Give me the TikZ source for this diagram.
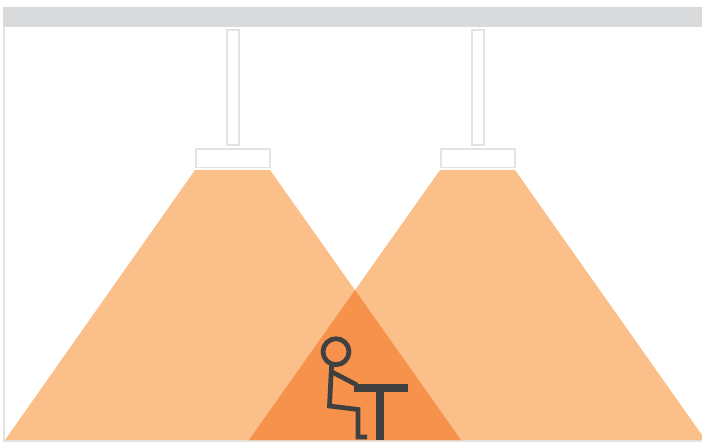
\documentclass[tikz,border=0pt]{standalone}
\definecolor{ceilgray}{HTML}{D9DADB}
\definecolor{fixgray}{HTML}{E2E3E3}
\definecolor{lightcone}{HTML}{FBBF8A}
\definecolor{overlap}{HTML}{F7924D}
\definecolor{figdark}{HTML}{404040}
\begin{document}
\begin{tikzpicture}[
    x=0.02cm, y=-0.02cm,
    fixture/.style={draw=fixgray, fill=white, line width=0.04cm},
    struct/.style={fill=ceilgray},
    cone/.style={fill=lightcone},
    stick/.style={draw=figdark, line width=0.095cm, line join=miter},
  ]
    \useasboundingbox (0,0) rectangle (702,442);

    % ceiling, wall, floor
    \fill[struct] (3,7.5) rectangle (702,26.7);
    \fill[fixgray] (3,26) rectangle (5,442);
    \fill[fixgray] (3,440) rectangle (702,442);

    % light cones
    \fill[cone] (195,170) -- (270,170) -- (461,440) -- (5,440) -- cycle;
    \fill[cone] (440,170) -- (515,170) -- (702,435) -- (702,440) -- (249,440) -- cycle;
    \fill[overlap] (355,290) -- (461,440) -- (249,440) -- cycle;

    % rods and lamps
    \draw[fixture] (226.5,30.5) rectangle (239,145);
    \draw[fixture] (196,149.5) rectangle (269.5,167.5);
    \draw[fixture] (471.5,30.5) rectangle (484,145);
    \draw[fixture] (441,149.5) rectangle (514.5,167.5);

    % person at table
    \draw[stick] (336,351.7) circle (13);
    \draw[stick] (331.5,366) -- (329.5,406) -- (358,409.5) -- (358,437) -- (367,437);
    \draw[stick] (332,372) -- (357,385);
    \fill[figdark] (354,384) rectangle (408,392);
    \fill[figdark] (376,392) rectangle (384,440);
\end{tikzpicture}
\end{document}
